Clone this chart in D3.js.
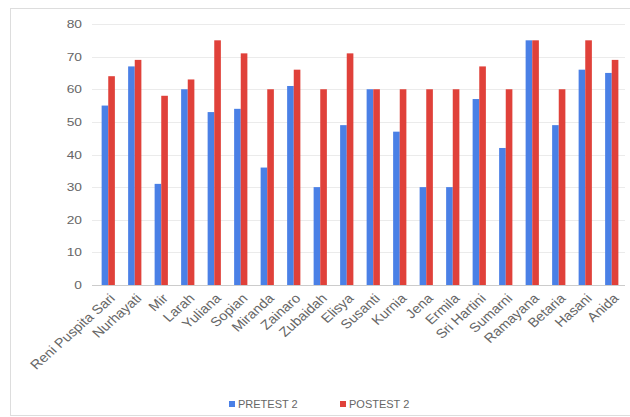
<!DOCTYPE html>
<html><head><meta charset="utf-8">
<script src="https://cdn.jsdelivr.net/npm/d3@7"></script>
<style>body{margin:0;background:#fff;}svg{display:block;font-family:"Liberation Sans",Arial,sans-serif;}</style>
</head><body><svg id="c" width="630" height="417"></svg>
<script>
const categories = ["Reni Puspita Sari","Nurhayati","Mir","Larah","Yuliana","Sopian","Miranda","Zainaro","Zubaidah","Elisya","Susanti","Kurnia","Jena","Ermila","Sri Hartini","Sumarni","Ramayana","Betaria","Hasani","Anida"];
const pretest = [55,67,31,60,53,54,36,61,30,49,60,47,30,30,57,42,75,49,66,65];
const posttest = [64,69,58,63,75,71,60,66,60,71,60,60,60,60,67,60,75,60,75,69];
const seriesNames = ["PRETEST 2","POSTEST 2"];
const colors = ["#4a80e6","#e0413a"];
const yTicks = [0,10,20,30,40,50,60,70,80];

const svg = d3.select("#c");
svg.append("rect").attr("x",10.5).attr("y",8.5).attr("width",625).attr("height",407)
  .attr("fill","#fff").attr("stroke","#ddd");

const x = d3.scaleBand().domain(categories).range([95,625]).paddingInner(0.5).paddingOuter(0.25);
const x1 = d3.scaleBand().domain([0,1]).range([0,x.bandwidth()]);
const y = d3.scaleLinear().domain([0,80]).range([285,24]);

const grid = svg.append("g");
grid.selectAll("line").data(yTicks).join("line")
  .attr("x1",92).attr("x2",625).attr("y1",d=>Math.round(y(d))+0.5).attr("y2",d=>Math.round(y(d))+0.5)
  .attr("stroke",d=>d===0?"#ccc":"#ebebeb");

const yAxis = svg.append("g").attr("transform","translate(82,0)")
  .call(d3.axisLeft(y).tickValues(yTicks).tickSize(0).tickPadding(0));
yAxis.select(".domain").remove();
yAxis.selectAll("text").attr("fill","#666").style("font-size","11px")
  .attr("transform","scale(1.25,1)").attr("x",0);

const data = [pretest, posttest];
data.forEach((vals,si)=>{
  svg.append("g").selectAll("rect").data(vals).join("rect")
    .attr("x",(d,i)=>x(categories[i])+x1(si))
    .attr("width",x1.bandwidth())
    .attr("y",d=>y(d))
    .attr("height",d=>y(0)-y(d))
    .attr("fill",colors[si]);
});

const xAxis = svg.append("g").attr("transform","translate(0,290)")
  .call(d3.axisBottom(x).tickSize(0).tickPadding(0));
xAxis.select(".domain").remove();
xAxis.selectAll("text").attr("fill","#666").style("font-size","13px")
  .attr("text-anchor","end").attr("dy","0.35em").attr("y",0)
  .attr("transform","translate(4,6) scale(1.12,1) rotate(-45)");

const legend = svg.append("g").attr("transform","translate(229,404)");
const lx = [0,111];
seriesNames.forEach((n,i)=>{
  legend.append("rect").attr("x",lx[i]).attr("y",-3).attr("width",6).attr("height",6).attr("fill",colors[i]);
  legend.append("text").attr("x",lx[i]+9).attr("y",0).attr("dy","0.35em")
    .attr("fill","#666").style("font-size","11px").text(n);
});
</script></body></html>
